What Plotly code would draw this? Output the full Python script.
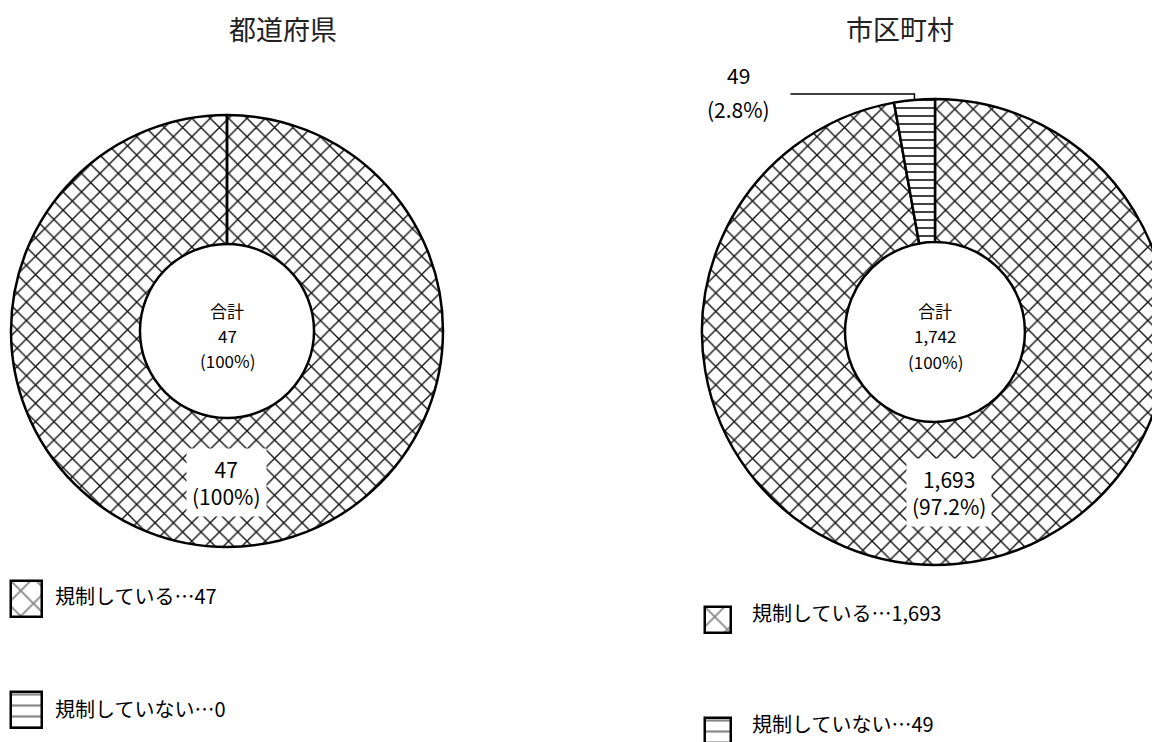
import math
import plotly.graph_objects as go

W, H = 1160, 742
OFF = 8  # the page body margin moves the figure 8px right and down
FONT = "Noto Sans CJK JP"

# data
categories = ["規制している", "規制していない"]
pref_values = [47, 0]
city_values = [1693, 49]
panel_titles = ["都道府県", "市区町村"]
total_word = "合計"

# style
hatch = ["x", "-"]
pie_hatch_size = [13, 8]
legend_hatch_size = [18, 11]


def pct_text(v, total):
    p = 100 * v / total
    return "100%" if round(p, 1) == 100 else f"{p:.1f}%"


def scr(x, y):
    """screen pixel -> paper coords"""
    return (x - OFF) / W, 1 - (y - OFF) / H


def note(x, y, text, size, **kw):
    px_, py_ = scr(x, y)
    fig.add_annotation(x=px_, y=py_, xref="paper", yref="paper", text=text,
                       showarrow=False, xanchor=kw.pop("xanchor", "center"),
                       yanchor="middle", font=dict(size=size, color=kw.pop("color", "black")),
                       **kw)


fig = go.Figure()

# (values, centre x, centre y, radius, hole) in screen pixels
panels = [
    (pref_values, 227, 331, 216, 0.403),
    (city_values, 935, 332, 233, 0.386),
]

for values, cx, cy, r, hole in panels:
    total = sum(values)
    x0, y1 = scr(cx - r, cy - r)
    x1, y0 = scr(cx + r, cy + r)
    fig.add_trace(go.Pie(
        labels=categories, values=values, sort=False, direction="clockwise",
        hole=hole, textinfo="none", hoverinfo="skip", showlegend=False,
        domain=dict(x=[max(0, x0), min(1, x1)], y=[max(0, y0), min(1, y1)]),
        marker=dict(colors=["white", "white"],
                    line=dict(color="black", width=2.5),
                    pattern=dict(shape=hatch, size=pie_hatch_size,
                                 solidity=0.2, fgcolor="#111", bgcolor="white")),
    ))

    # total in the hole
    for j, line in enumerate([total_word, f"{total:,}", f"({pct_text(total, total)})"]):
        note(cx, cy - 21 + 25 * j, line, 17)

    # labels placed at each slice's mid angle
    cum = 0
    for v in values:
        if v == 0:
            continue
        theta = 2 * math.pi * (cum + v / 2) / total
        cum += v
        if v / total > 0.1:
            rm = r * (1 + hole) / 2
            note(cx + rm * math.sin(theta), cy - rm * math.cos(theta),
                 f"{v:,}<br>({pct_text(v, total)})", 21, bgcolor="white", borderpad=5)
        else:
            ox, oy = cx + r * math.sin(theta), cy - r * math.cos(theta)
            ey = oy - 6
            lx = ox - 124
            a, b = scr(ox, oy)
            c, d = scr(ox, ey)
            e, f = scr(lx, ey)
            fig.add_shape(type="path", xref="paper", yref="paper",
                          path=f"M {a} {b} L {c} {d} L {e} {f}",
                          line=dict(color="black", width=1.5))
            note(lx - 52, ey - 19, f"{v:,}", 21)
            note(lx - 52, ey + 15, f"({pct_text(v, total)})", 21)

    # seam at 12 o'clock for a ring drawn as one full slice
    if sum(1 for v in values if v > 0) == 1:
        a, b = scr(cx, cy - r * hole)
        c, d = scr(cx, cy - r)
        fig.add_shape(type="line", xref="paper", yref="paper",
                      x0=a, y0=b, x1=c, y1=d, line=dict(color="black", width=2.5))

# panel titles
for title, tx in zip(panel_titles, [283, 900]):
    note(tx, 29, title, 27, color="#222")

# legends: swatches drawn as one-bar subplots so the hatch fills match
legend_boxes = [
    # (values, swatch x, row centres, swatch size, text x, text y)
    (pref_values, 6, [599, 710], 36, 53, [595, 708]),
    (city_values, 705, [620, 731], 26, 750, [612, 723]),
]
k = 0
for values, bx, rows, size, textx, texty in legend_boxes:
    for i, (cat, v) in enumerate(zip(categories, values)):
        k += 1
        ax = "" if k == 1 else str(k)
        pad = 3
        dx0, dy1 = scr(bx - pad, rows[i] - size / 2 - pad)
        dx1, dy0 = scr(bx + size + pad, rows[i] + size / 2 + pad)
        fig.add_trace(go.Bar(
            x=[0], y=[1], width=[1], showlegend=False, hoverinfo="skip",
            xaxis="x" + ax, yaxis="y" + ax,
            marker=dict(color="white", line=dict(color="black", width=2.5),
                        pattern=dict(shape=hatch[i], size=legend_hatch_size[i],
                                     solidity=0.2, fgcolor="#111", bgcolor="white")),
        ))
        fig.update_layout(**{
            "xaxis" + ax: dict(domain=[max(0, dx0), min(1, dx1)],
                               range=[-0.5 - pad / size, 0.5 + pad / size],
                               visible=False, fixedrange=True),
            "yaxis" + ax: dict(domain=[max(0, dy0), min(1, dy1)],
                               range=[-pad / size, 1 + pad / size],
                               visible=False, fixedrange=True),
        })
        note(textx, texty[i], f"{cat}…{v:,}", 20, xanchor="left")

fig.update_layout(
    width=W, height=H, margin=dict(l=0, r=0, t=0, b=0),
    paper_bgcolor="white", plot_bgcolor="white",
    font=dict(family=FONT, color="black"),
    showlegend=False, bargap=0,
)

fig.write_html("out.html")
